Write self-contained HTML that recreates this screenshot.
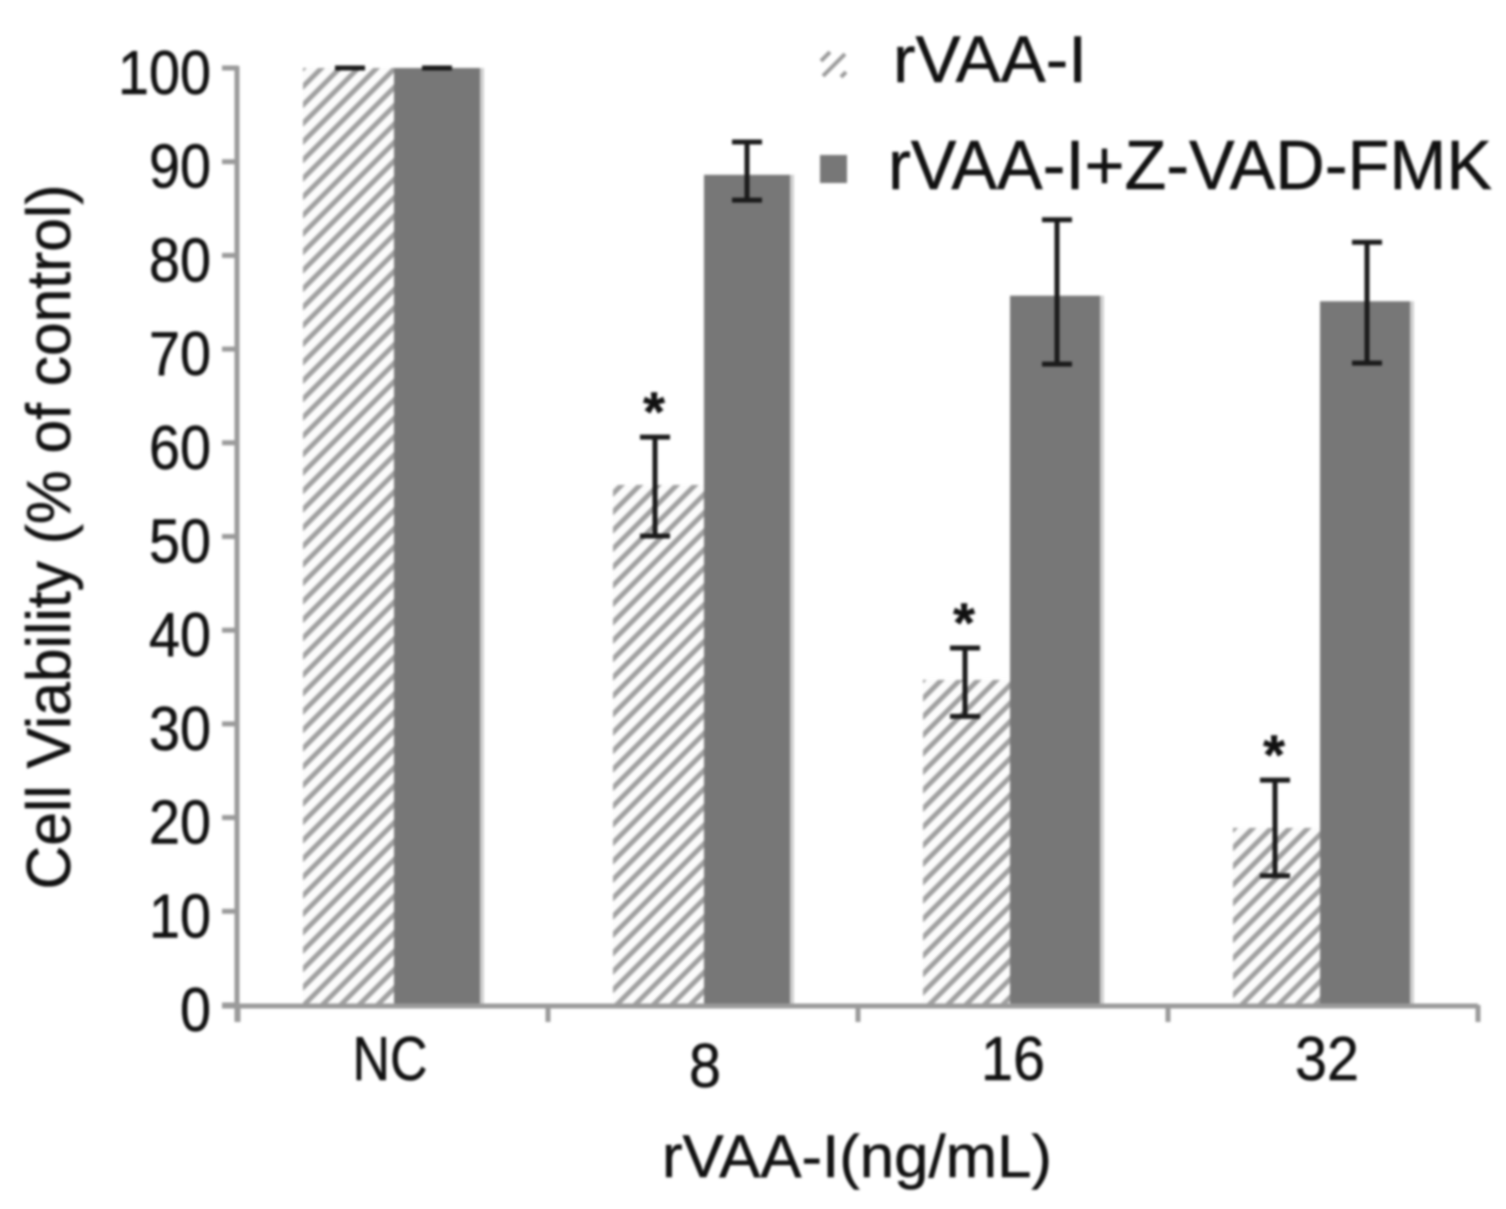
<!DOCTYPE html>
<html>
<head>
<meta charset="utf-8">
<style>
html,body{margin:0;padding:0;background:#fff;width:1506px;height:1209px;overflow:hidden}
svg{display:block;filter:blur(1.2px)}
text{font-family:"Liberation Sans",sans-serif;fill:#111;stroke:#111;stroke-width:0.5px}
</style>
</head>
<body>
<svg id="chart" width="1506" height="1209" viewBox="0 0 1506 1209" xmlns="http://www.w3.org/2000/svg">
<defs>
<pattern id="hatch" patternUnits="userSpaceOnUse" width="13" height="13" patternTransform="rotate(45)">
<rect width="13" height="13" fill="#fcfcfc"/>
<rect width="5" height="13" fill="#a0a0a0"/>
</pattern>
</defs>
</svg>
<script>
const categories = ["NC", "8", "16", "32"];
const seriesHatched = [100, 55.5, 34.7, 18.9];
const seriesSolid = [100, 88.6, 75.7, 75.1];
const errHatchedLow = [100, 50.05, 30.8, 13.8];
const errHatchedHigh = [100, 60.6, 38.1, 24];
const errSolidLow = [100, 85.9, 68.4, 68.5];
const errSolidHigh = [100, 92.1, 83.8, 81.4];
const yTicks = [0, 10, 20, 30, 40, 50, 60, 70, 80, 90, 100];
const starred = [false, true, true, true];

const svg = document.getElementById('chart');
const NS = 'http://www.w3.org/2000/svg';
const y = v => 1005 - v * 9.37;
const bandStart = 238, bandWidth = 310;
const x = i => bandStart + bandWidth * i;
function mk(tag, attrs, parent){
  const e = document.createElementNS(NS, tag);
  for (const k in attrs) e.setAttribute(k, attrs[k]);
  (parent || svg).appendChild(e);
  return e;
}
function addText(str, attrs, name){
  const t = mk('text', attrs);
  t.textContent = str;
  
  
  return t;
}
function errorBar(cx, lo, hi, name){
  const g = mk('g', {stroke:'#1a1a1a', 'stroke-width':5, fill:'none'});
  
  
  mk('line', {x1:cx, x2:cx, y1:y(lo), y2:y(hi)}, g);
  mk('line', {x1:cx-15, x2:cx+15, y1:y(lo), y2:y(lo)}, g);
  mk('line', {x1:cx-15, x2:cx+15, y1:y(hi), y2:y(hi)}, g);
}

categories.forEach((c, i) => {
  const x0 = x(i);
  const split = x0 + (i < 2 ? 156 : 152);
  const end = x0 + 242;
  const h = mk('rect', {x:x0+65, y:y(seriesHatched[i]), width:split-x0-65, height:y(0)-y(seriesHatched[i]), fill:'url(#hatch)'});
  
  
  const f = mk('rect', {x:end, y:y(seriesSolid[i]), width:4, height:y(0)-y(seriesSolid[i]), fill:'#cfcfcf'});
  
  
  const s = mk('rect', {x:split, y:y(seriesSolid[i]), width:end-split, height:y(0)-y(seriesSolid[i]), fill:'#777777'});
  
  
  const hx = x0 + (i === 0 ? 112 : 107);
  errorBar(hx, errHatchedLow[i], errHatchedHigh[i], 'error-bar-hatched-' + c);
  errorBar(x0 + 199, errSolidLow[i], errSolidHigh[i], 'error-bar-solid-' + c);
  if (starred[i]) {
    addText('*', {x:hx-1, y:y(errHatchedHigh[i])-6, 'font-size':56, 'font-weight':'bold', 'text-anchor':'middle'}, 'significance-star-' + c);
  }
  const labelX = x0 + (i === 0 ? 152 : i === 1 ? 157 : i === 2 ? 155 : 159);
  const labelY = i === 1 ? 1087 : 1080;
  const labelLen = c === 'NC' ? 75 : c.length * 32;
  addText(c, {x:labelX, y:labelY, 'font-size':62, 'text-anchor':'middle', textLength:labelLen, lengthAdjust:'spacingAndGlyphs'}, 'x-tick-label-' + c);
});

const axes = mk('g', {stroke:'#9a9a9a', 'stroke-width':5, fill:'none'});


mk('line', {x1:237, x2:237, y1:y(100)-2, y2:1022}, axes);
mk('line', {x1:222, x2:1478, y1:1006, y2:1006}, axes);
for (let i = 0; i <= categories.length; i++) {
  mk('line', {x1:x(i), x2:x(i), y1:1005, y2:1022}, axes);
}
yTicks.forEach(v => {
  mk('line', {x1:222, x2:238, y1:y(v), y2:y(v)}, axes);
  const label = String(v);
  addText(label, {x:211, y:y(v)+26, 'font-size':62, 'text-anchor':'end', textLength:label.length * 31, lengthAdjust:'spacingAndGlyphs'}, 'y-tick-label-' + v);
});

addText('Cell Viability (% of control)', {transform:'translate(70,537) rotate(-90)', 'font-size':62, 'text-anchor':'middle', textLength:705, lengthAdjust:'spacingAndGlyphs'}, 'y-axis-title');
addText('rVAA-I(ng/mL)', {x:857, y:1177, 'font-size':60, 'text-anchor':'middle', textLength:390, lengthAdjust:'spacingAndGlyphs'}, 'x-axis-title');

const l1 = mk('g', {stroke:'#999', 'stroke-width':4, fill:'none'});


mk('line', {x1:823, x2:845, y1:76, y2:54}, l1);
mk('line', {x1:821, x2:830, y1:61, y2:52}, l1);
mk('line', {x1:841, x2:846, y1:77, y2:72}, l1);
addText('rVAA-I', {x:893, y:82, 'font-size':66, textLength:194, lengthAdjust:'spacingAndGlyphs'}, 'legend-label-hatched');
const l2 = mk('rect', {x:820, y:155, width:27, height:28, fill:'#777777'});


addText('rVAA-I+Z-VAD-FMK', {x:888, y:189, 'font-size':70, textLength:604, lengthAdjust:'spacingAndGlyphs'}, 'legend-label-solid');
</script>
</body>
</html>
